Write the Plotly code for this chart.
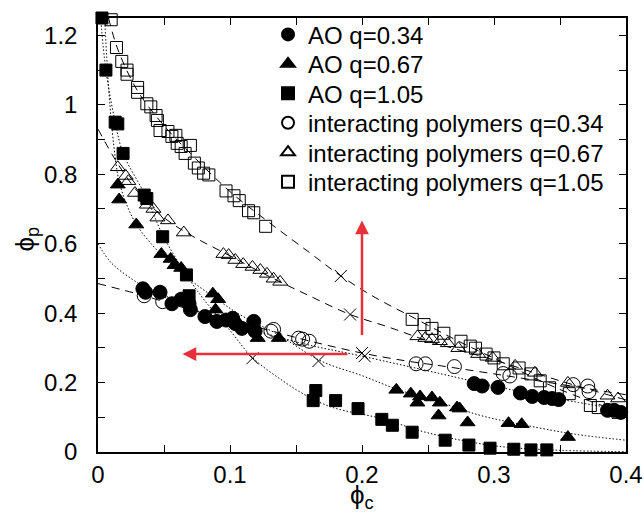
import plotly.graph_objects as go

# ---------------- data ----------------
ao034_x = [0.034, 0.036, 0.047, 0.056, 0.063, 0.069, 0.070, 0.081, 0.090, 0.097, 0.102, 0.104, 0.109, 0.118, 0.119,
           0.285, 0.291, 0.303, 0.320, 0.329, 0.338, 0.344, 0.349, 0.386, 0.391, 0.396]
ao034_y = [0.470, 0.460, 0.460, 0.427, 0.440, 0.427, 0.410, 0.390, 0.376, 0.380, 0.385, 0.370, 0.356, 0.376, 0.348,
           0.197, 0.190, 0.186, 0.170, 0.160, 0.157, 0.154, 0.151, 0.120, 0.120, 0.114]

ao067_x = [0.015, 0.016, 0.029, 0.048, 0.055, 0.058, 0.063, 0.087, 0.091, 0.089, 0.121, 0.137,
           0.226, 0.237, 0.244, 0.242, 0.253, 0.259, 0.258, 0.272, 0.274, 0.280, 0.311, 0.321, 0.356]
ao067_y = [0.770, 0.727, 0.655, 0.570, 0.556, 0.538, 0.530, 0.456, 0.440, 0.410, 0.328, 0.328,
           0.179, 0.168, 0.160, 0.142, 0.157, 0.142, 0.105, 0.128, 0.125, 0.085, 0.083, 0.080, 0.043]

ao105_x = [0.003, 0.006, 0.013, 0.015, 0.019, 0.035, 0.037, 0.049, 0.067, 0.069, 0.163, 0.165, 0.180, 0.197,
           0.215, 0.223, 0.238, 0.263, 0.281, 0.297, 0.315, 0.328, 0.340]
ao105_y = [1.250, 1.100, 0.950, 0.945, 0.860, 0.740, 0.730, 0.620, 0.510, 0.450, 0.148, 0.177, 0.148, 0.125,
           0.094, 0.077, 0.057, 0.034, 0.020, 0.011, 0.008, 0.006, 0.006]

ip034_x = [0.035, 0.049, 0.131, 0.133, 0.152, 0.155, 0.160, 0.241, 0.248, 0.270, 0.307, 0.312, 0.360, 0.371, 0.372]
ip034_y = [0.450, 0.433, 0.348, 0.353, 0.328, 0.325, 0.319, 0.254, 0.254, 0.246, 0.226, 0.219, 0.194, 0.190, 0.174]

ip067_x = [0.015, 0.021, 0.023, 0.028, 0.037, 0.042, 0.045, 0.053, 0.065, 0.095, 0.099, 0.104, 0.110, 0.117, 0.123,
           0.128, 0.133, 0.138, 0.242, 0.248, 0.253, 0.259, 0.265, 0.273, 0.288, 0.299, 0.316, 0.331, 0.356, 0.386, 0.394]
ip067_y = [0.820, 0.795, 0.780, 0.746, 0.712, 0.700, 0.675, 0.667, 0.632, 0.570, 0.567, 0.553, 0.541, 0.533, 0.524,
           0.513, 0.499, 0.490, 0.333, 0.328, 0.325, 0.319, 0.313, 0.299, 0.282, 0.271, 0.248, 0.228, 0.199, 0.162, 0.154]

ip105_x = [0.010, 0.014, 0.018, 0.022, 0.022, 0.030, 0.030, 0.037, 0.040, 0.044, 0.045, 0.047, 0.053, 0.056, 0.059,
           0.060, 0.063, 0.066, 0.070, 0.073, 0.076, 0.080, 0.084, 0.097, 0.103, 0.107, 0.114, 0.118, 0.127,
           0.238, 0.247, 0.253, 0.262, 0.275, 0.282, 0.286, 0.294, 0.300, 0.307, 0.319, 0.328, 0.335, 0.342,
           0.357, 0.373, 0.379, 0.394]
ip105_y = [1.245, 1.165, 1.125, 1.100, 1.088, 1.050, 1.036, 1.003, 0.994, 0.969, 0.955, 0.926, 0.923, 0.909, 0.912,
           0.889, 0.880, 0.860, 0.883, 0.832, 0.818, 0.803, 0.798, 0.752, 0.738, 0.724, 0.695, 0.689, 0.650,
           0.382, 0.367, 0.356, 0.342, 0.319, 0.305, 0.299, 0.282, 0.271, 0.254, 0.242, 0.225, 0.205, 0.185,
           0.168, 0.134, 0.128, 0.114]

# theory curves: dotted = AO, dashed = interacting polymers
ao034_cx = [0.0, 0.01, 0.025, 0.04, 0.06, 0.08, 0.10, 0.13, 0.16, 0.20, 0.26, 0.30, 0.35, 0.40]
ao034_cy = [0.60, 0.545, 0.50, 0.465, 0.43, 0.40, 0.372, 0.338, 0.308, 0.276, 0.225, 0.19, 0.152, 0.12]

ao067_cx = [0.005, 0.009, 0.013, 0.016, 0.022, 0.03, 0.045, 0.06, 0.09, 0.11, 0.136, 0.169, 0.20, 0.227, 0.26,
            0.29, 0.32, 0.36, 0.40]
ao067_cy = [1.25, 1.0, 0.85, 0.78, 0.71, 0.65, 0.58, 0.525, 0.44, 0.39, 0.339, 0.262, 0.22, 0.18, 0.142,
            0.105, 0.08, 0.052, 0.034]

ao105_cx = [0.002, 0.006, 0.013, 0.019, 0.03, 0.036, 0.049, 0.067, 0.08, 0.10, 0.117, 0.14, 0.159, 0.178, 0.214,
            0.25, 0.30, 0.35, 0.40]
ao105_cy = [1.25, 1.10, 0.95, 0.86, 0.78, 0.74, 0.625, 0.51, 0.44, 0.35, 0.272, 0.205, 0.16, 0.128, 0.097,
            0.055, 0.018, 0.005, 0.001]

ip034_cx = [0.0, 0.035, 0.07, 0.10, 0.13, 0.16, 0.20, 0.234, 0.26, 0.30, 0.35, 0.40]
ip034_cy = [0.485, 0.45, 0.41, 0.38, 0.35, 0.32, 0.285, 0.262, 0.248, 0.225, 0.195, 0.165]

ip067_cx = [0.0, 0.015, 0.03, 0.05, 0.07, 0.10, 0.13, 0.16, 0.191, 0.22, 0.25, 0.30, 0.35, 0.40]
ip067_cy = [0.93, 0.83, 0.75, 0.675, 0.625, 0.565, 0.505, 0.45, 0.396, 0.36, 0.32, 0.265, 0.205, 0.15]

ip105_cx = [0.008, 0.015, 0.03, 0.05, 0.07, 0.10, 0.13, 0.16, 0.184, 0.21, 0.24, 0.27, 0.30, 0.35, 0.40]
ip105_cy = [1.25, 1.16, 1.04, 0.94, 0.86, 0.75, 0.66, 0.575, 0.507, 0.445, 0.385, 0.325, 0.27, 0.18, 0.11]

cross_x = [0.184, 0.191, 0.200, 0.202, 0.117, 0.167]
cross_y = [0.507, 0.396, 0.285, 0.276, 0.270, 0.262]

vert_arrow_x = [0.2, 0.2]        # tail, tip
vert_arrow_y = [0.333, 0.667]
horiz_arrow_x = [0.19, 0.064]
horiz_arrow_y = [0.282, 0.282]

x_ticks = [0, 0.1, 0.2, 0.3, 0.4]
y_ticks = [0, 0.2, 0.4, 0.6, 0.8, 1.0, 1.2]

FONT = "Liberation Sans, Arial, Helvetica, DejaVu Sans, sans-serif"
RED = "#e8303a"

fig = go.Figure()

dot = "1.5px,2px"
dash = "8px,6px"
for cx, cy, d in [(ao034_cx, ao034_cy, dot), (ao067_cx, ao067_cy, dot), (ao105_cx, ao105_cy, dot),
                  (ip034_cx, ip034_cy, dash), (ip067_cx, ip067_cy, dash), (ip105_cx, ip105_cy, dash)]:
    fig.add_trace(go.Scatter(x=cx, y=cy, mode="lines", line=dict(color="black", width=1, dash=d, shape="spline"),
                             showlegend=False, hoverinfo="skip"))

fig.add_trace(go.Scatter(x=cross_x, y=cross_y, mode="markers", showlegend=False, hoverinfo="skip",
                         marker=dict(symbol="x-thin-open", size=12, color="black",
                                     line=dict(color="black", width=1))))

series = [
    (ao034_x, ao034_y, "circle", 14, "AO q=0.34"),
    (ao067_x, ao067_y, "triangle-up", 13, "AO q=0.67"),
    (ao105_x, ao105_y, "square", 12, "AO q=1.05"),
    (ip034_x, ip034_y, "circle-open", 14, "interacting polymers q=0.34"),
    (ip067_x, ip067_y, "triangle-up-open", 13, "interacting polymers q=0.67"),
    (ip105_x, ip105_y, "square-open", 12, "interacting polymers q=1.05"),
]
legend_layout = {}
PLOT_TOP, PLOT_H = 13, 439
for i, (sx, sy, sym, sz, name) in enumerate(series):
    lname = "legend" if i == 0 else f"legend{i + 1}"
    fig.add_trace(go.Scatter(x=sx, y=sy, mode="markers", name=name, legend=lname, cliponaxis=False,
                             marker=dict(symbol=sym, size=sz, color="black", line=dict(color="black", width=1))))
    row_px = 30 + 29.8 * i
    legend_layout[lname] = dict(x=0.322, y=1 - (row_px - PLOT_TOP) / PLOT_H, xanchor="left", yanchor="middle",
                                bgcolor="rgba(0,0,0,0)", font=dict(family=FONT, size=24),
                                itemsizing="constant", tracegroupgap=0)

for ax_, ay_, tx, ty in [(vert_arrow_x[0], vert_arrow_y[0], vert_arrow_x[1], vert_arrow_y[1]),
                         (horiz_arrow_x[0], horiz_arrow_y[0], horiz_arrow_x[1], horiz_arrow_y[1])]:
    fig.add_annotation(x=tx, y=ty, ax=ax_, ay=ay_, xref="x", yref="y", axref="x", ayref="y", text="",
                       showarrow=True, arrowhead=2, arrowsize=1.1, arrowwidth=2.5, arrowcolor=RED, standoff=0)

# axis titles
fig.add_annotation(text="ϕ<sub>c</sub>", xref="paper", yref="paper", x=0.5, y=-0.103,
                   xanchor="center", yanchor="middle", showarrow=False, font=dict(family=FONT, size=26))
fig.add_annotation(text="ϕ<sub>p</sub>", xref="paper", yref="paper", x=-0.136, y=0.49,
                   xanchor="center", yanchor="middle", showarrow=False, textangle=-90,
                   font=dict(family=FONT, size=26))

axis_common = dict(showline=True, linecolor="black", linewidth=1.5, mirror="ticks", ticks="inside",
                   ticklen=7, tickwidth=1, tickcolor="black", showgrid=False, zeroline=False, automargin=False,
                   tickfont=dict(family=FONT, size=24, color="black"))

fig.update_layout(
    width=644, height=513,
    margin=dict(l=98, r=18, t=13, b=61),
    plot_bgcolor="white", paper_bgcolor="white",
    font=dict(family=FONT, color="black"),
    xaxis=dict(range=[0, 0.4], tickvals=x_ticks, ticktext=[f"{v:g}" for v in x_ticks],
               minor=dict(dtick=0.05, tick0=0, ticks="inside", ticklen=7, tickcolor="black"),
               ticklabelstandoff=0, **axis_common),
    yaxis=dict(range=[0, 1.25], tickvals=y_ticks, ticktext=[f"{v:g}" for v in y_ticks],
               minor=dict(dtick=0.1, tick0=0, ticks="inside", ticklen=7, tickcolor="black"),
               ticklabelstandoff=14, **axis_common),
    **legend_layout,
)

fig.write_html("out.html", config={"displayModeBar": False},
               post_script="document.body.style.margin='0';")
